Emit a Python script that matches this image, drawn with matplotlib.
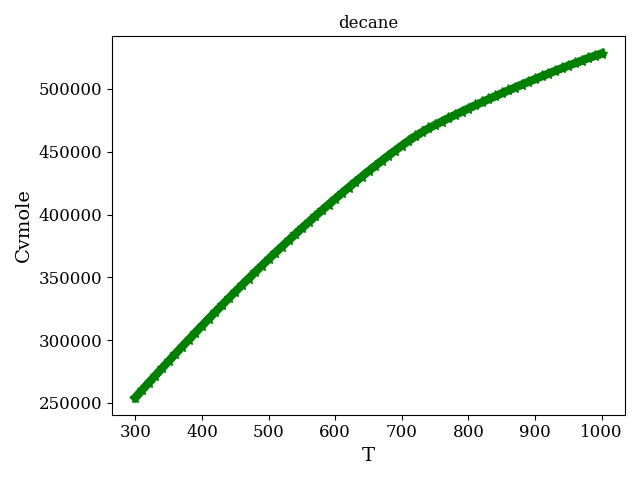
import matplotlib
matplotlib.use("Agg")
import matplotlib.pyplot as plt

plt.rcParams['font.family'] = 'serif'
plt.rcParams['font.size'] = 12

# temperature (K) and Cvmole
T = list(range(300, 1001, 10))
Cvmole = [254300, 260150, 265980, 271780, 277550, 283290, 289000, 294670, 300300, 305890,
          311440, 316950, 322420, 327850, 333230, 338560, 343840, 349070, 354250, 359380,
          364460, 369490, 374470, 379400, 384280, 389110, 393890, 398620, 403300, 407930,
          412510, 417030, 421490, 425890, 430230, 434510, 438730, 442880, 446960, 450960,
          454860, 458610, 462160, 465460, 468510, 471360, 474080, 476730, 479330, 481890,
          484410, 486890, 489340, 491760, 494150, 496510, 498840, 501140, 503410, 505650,
          507860, 510040, 512190, 514310, 516410, 518490, 520550, 522590, 524610, 526500,
          528200]

fig, ax = plt.subplots(figsize=(6.4, 4.8), dpi=100)
ax.plot(T, Cvmole, 'g*-', ms=8, lw=6)
ax.set_title('decane', fontsize=12)
ax.set_xlabel('T', fontsize=14)
ax.set_ylabel('Cvmole', fontsize=14)
fig.tight_layout(pad=0.9)
fig.savefig('out.png')
